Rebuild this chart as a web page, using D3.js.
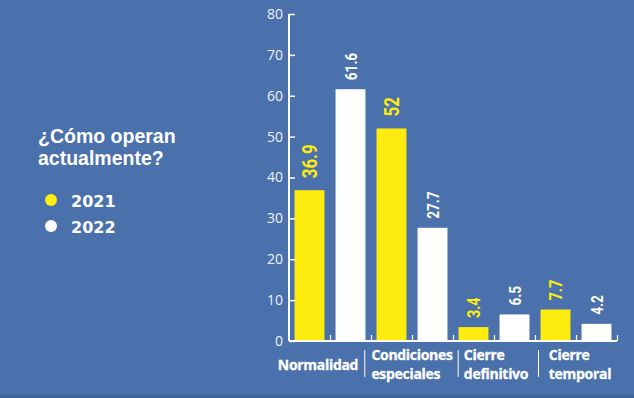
<!DOCTYPE html>
<html>
<head>
<meta charset="utf-8">
<script src="https://cdn.jsdelivr.net/npm/d3@7"></script>
<style>
  body { margin: 0; background: #4a71ab; }
  svg { display: block; }
</style>
</head>
<body>
<div id="chart"></div>
<script>
// datos
const categories = [['Normalidad'], ['Condiciones', 'especiales'], ['Cierre', 'definitivo'], ['Cierre', 'temporal']];
const years = ['2021', '2022'];
const values2021 = [36.9, 52, 3.4, 7.7];
const values2022 = [61.6, 27.7, 6.5, 4.2];
const yTicks = [0, 10, 20, 30, 40, 50, 60, 70, 80];
const titleLines = ['¿Cómo operan', 'actualmente?'];

const width = 634;
const height = 398;
const yellow = '#fdec0e';
const white = '#ffffff';
const bg = '#4a71ab';
const labelNudge = [-12, 0, 2, 4];

const svg = d3.select('#chart')
    .append('svg')
    .attr('width', width)
    .attr('height', height);

svg.append('rect')
    .attr('width', width)
    .attr('height', height)
    .attr('fill', bg);

svg.append('rect')
    .attr('y', height - 3)
    .attr('width', width)
    .attr('height', 3)
    .attr('fill', '#3f6498');

const plotLeft = 289, plotRight = 617, plotTop = 14, plotBottom = 341;

const x0 = d3.scaleBand()
    .domain(d3.range(categories.length))
    .range([plotLeft, plotRight]);

const x1 = d3.scaleBand()
    .domain(years)
    .range([0, x0.bandwidth()])
    .paddingInner(0.27)
    .paddingOuter(0.135);

const y = d3.scaleLinear()
    .domain([0, 80])
    .range([plotBottom, plotTop]);

const rows = [];
categories.forEach((c, i) => {
    rows.push({cat: i, year: '2021', value: values2021[i]});
    rows.push({cat: i, year: '2022', value: values2022[i]});
});

// barras
svg.append('g').selectAll('rect')
    .data(rows)
    .enter()
    .append('rect')
    .attr('x', d => x0(d.cat) + x1(d.year))
    .attr('y', d => y(d.value))
    .attr('width', x1.bandwidth())
    .attr('height', d => plotBottom - y(d.value))
    .attr('fill', d => d.year === '2021' ? yellow : white);

// etiquetas de valor
const isBig = d => d.year === '2021' && d.value > 30;
svg.append('g').selectAll('text')
    .data(rows)
    .enter()
    .append('text')
    .attr('transform', d => {
        const cx = x0(d.cat) + x1(d.year) + x1.bandwidth() / 2;
        return `translate(${cx},${y(d.value) - (isBig(d) ? 12 : 9)}) rotate(-90) scale(0.8,1)`;
    })
    .attr('dy', '0.36em')
    .attr('fill', d => d.year === '2021' ? yellow : white)
    .style('font-family', 'Roboto, sans-serif')
    .style('font-weight', 'bold')
    .style('font-size', d => isBig(d) ? '21px' : (d.year === '2021' ? '18px' : '17px'))
    .text(d => d.value);

// eje y
const yAxis = d3.axisLeft(y)
    .tickValues(yTicks)
    .tickSize(-6)
    .tickPadding(6);

const gy = svg.append('g')
    .attr('transform', `translate(${plotLeft},0)`)
    .call(yAxis);
gy.select('.domain').attr('stroke', white).attr('stroke-width', 2).attr('d', `M0,${plotTop}V${plotBottom}`);
gy.selectAll('.tick line').attr('stroke', white).attr('stroke-width', 1.5);
gy.selectAll('.tick text')
    .attr('fill', '#eef2f8')
    .style('font-family', '"Open Sans", sans-serif')
    .style('font-size', '14px');

// eje x
const slots = d3.scaleLinear().domain([0, 8]).range([plotLeft, plotRight]);
const gx = svg.append('g')
    .attr('transform', `translate(0,${plotBottom})`)
    .call(d3.axisBottom(slots).tickValues(d3.range(1, 9)).tickSize(-6).tickFormat(''));
gx.select('.domain').attr('stroke', white).attr('stroke-width', 2).attr('d', `M${plotLeft},0H${plotRight}`);
gx.selectAll('.tick line').attr('stroke', white).attr('stroke-width', 1.2);

// categorias
const boxes = [];
categories.forEach((lines, i) => {
    const g = svg.append('g');
    const base = lines.length === 1 ? 370 : 360;
    const texts = lines.map((l, k) => g.append('text')
        .attr('y', base + k * 19)
        .attr('fill', white)
        .attr('stroke', white)
        .attr('stroke-width', 0.3)
        .style('font-family', '"Open Sans", sans-serif')
        .style('font-weight', 'bold')
        .style('font-size', '14px')
        .style('letter-spacing', '-0.3px')
        .text(l));
    const w = d3.max(texts, t => t.node().getComputedTextLength());
    const x = x0(i) + x0.bandwidth() / 2 - w / 2 + labelNudge[i];
    texts.forEach(t => t.attr('x', x));
    boxes.push([x, x + w]);
});

// separadores
svg.append('g').selectAll('line')
    .data(d3.range(1, boxes.length))
    .enter()
    .append('line')
    .attr('x1', i => (boxes[i - 1][1] + boxes[i][0]) / 2)
    .attr('x2', i => (boxes[i - 1][1] + boxes[i][0]) / 2)
    .attr('y1', 350)
    .attr('y2', 377)
    .attr('stroke', white)
    .attr('stroke-width', 1);

// titulo
svg.append('g').selectAll('text')
    .data(titleLines)
    .enter()
    .append('text')
    .attr('x', 38)
    .attr('y', (d, i) => 143 + i * 22)
    .attr('fill', white)
    .style('font-family', '"Liberation Sans", sans-serif')
    .style('font-weight', 'bold')
    .style('font-size', '19.5px')
    .text(d => d);

// leyenda
const legend = svg.append('g').selectAll('g')
    .data(years)
    .enter()
    .append('g')
    .attr('transform', (d, i) => `translate(51,${200 + i * 26})`);
legend.append('circle')
    .attr('r', 6)
    .attr('fill', (d, i) => i === 0 ? yellow : white);
legend.append('text')
    .attr('x', 20)
    .attr('y', 7)
    .attr('fill', white)
    .style('font-family', '"DejaVu Sans", sans-serif')
    .style('font-weight', 'bold')
    .style('font-size', '16px')
    .text(d => d);
</script>
</body>
</html>
